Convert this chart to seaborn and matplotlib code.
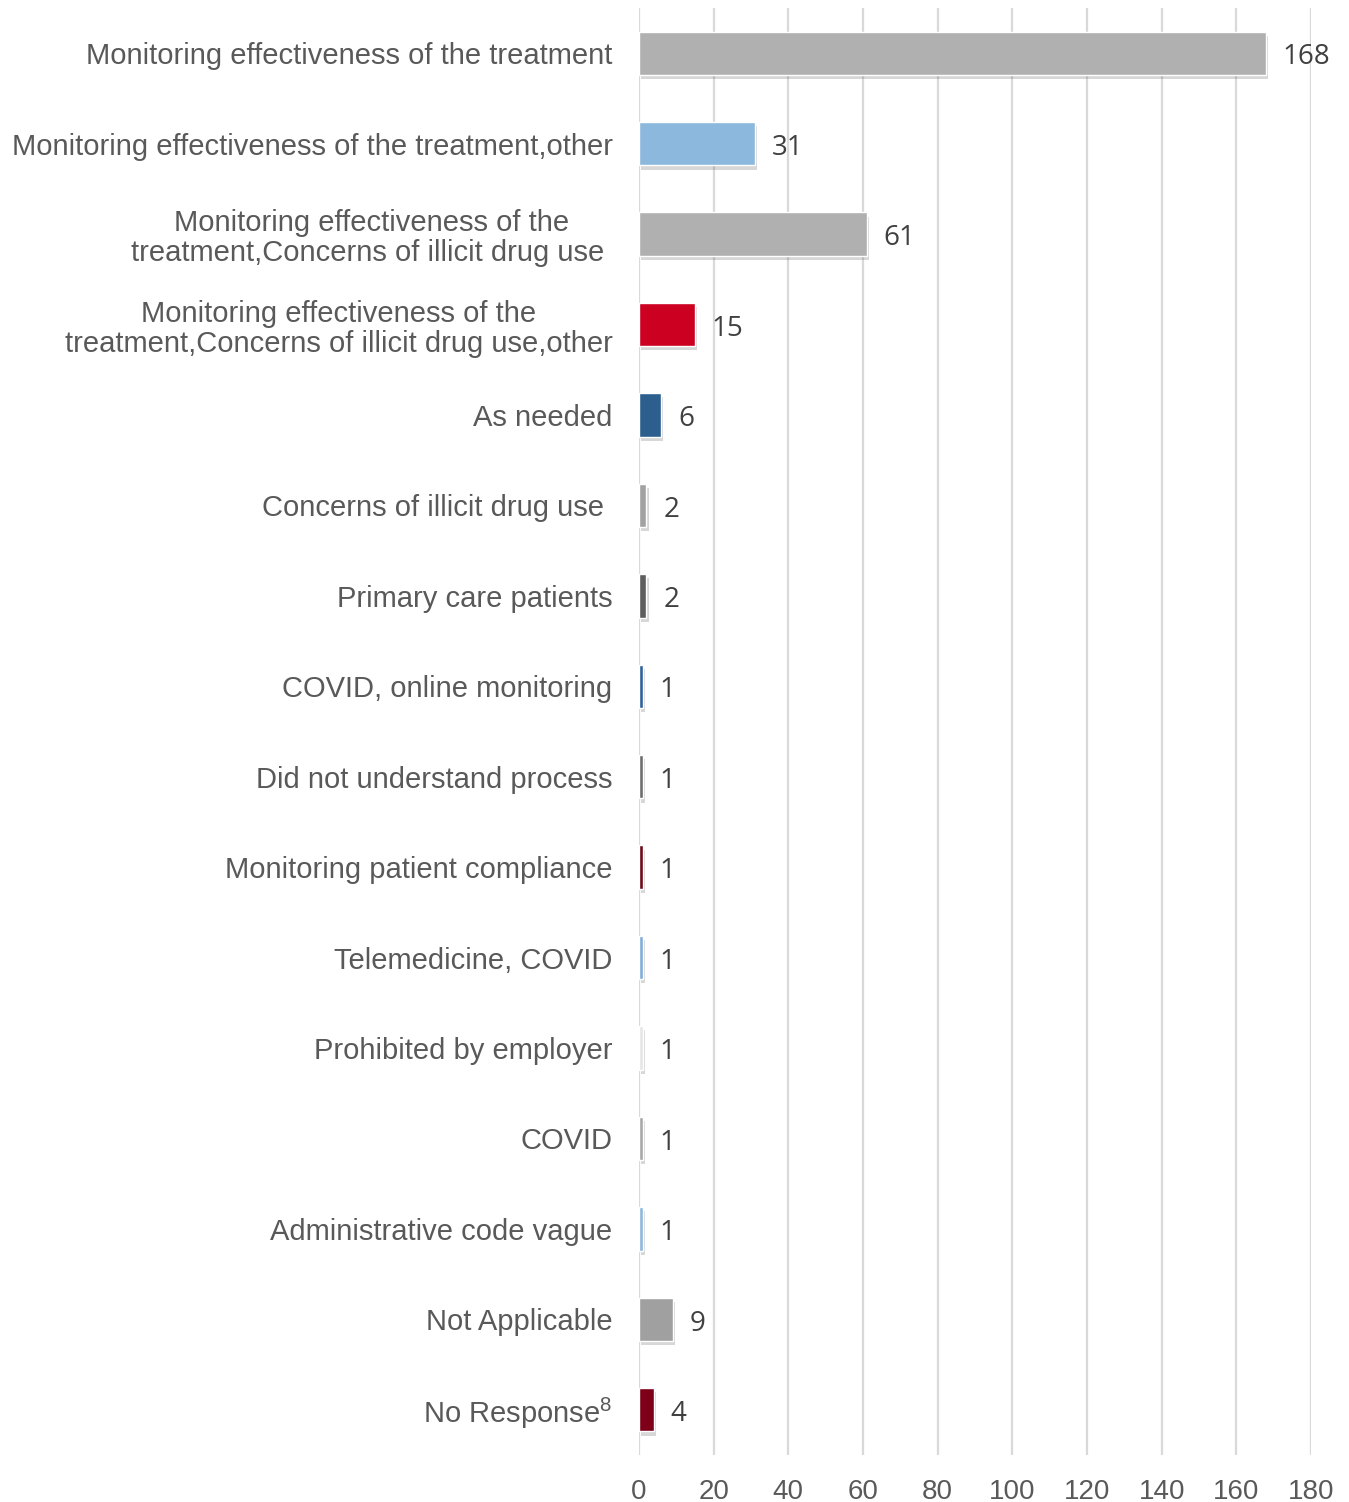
import matplotlib
matplotlib.use("Agg")
import matplotlib.pyplot as plt
import matplotlib.patheffects as pe
import seaborn as sns
import pandas as pd

categories = [
    "Monitoring effectiveness of the treatment",
    "Monitoring effectiveness of the treatment,other",
    "Monitoring effectiveness of the\ntreatment,Concerns of illicit drug use ",
    "Monitoring effectiveness of the\ntreatment,Concerns of illicit drug use,other",
    "As needed",
    "Concerns of illicit drug use ",
    "Primary care patients",
    "COVID, online monitoring",
    "Did not understand process",
    "Monitoring patient compliance",
    "Telemedicine, COVID",
    "Prohibited by employer",
    "COVID",
    "Administrative code vague",
    "Not Applicable",
    "No Response$\\mathregular{^8}$",
]
counts = [168, 31, 61, 15, 6, 2, 2, 1, 1, 1, 1, 1, 1, 1, 9, 4]
bar_colors = [
    "#B0B0B0", "#8DB8DE", "#B0B0B0", "#CC0020", "#2C5F8E", "#A2A2A2",
    "#5E5E5E", "#2F629A", "#6E6E6E", "#6A0A18", "#7FAEDA", "#E6E6E6",
    "#A8A8A8", "#8DB8DE", "#A0A0A0", "#7D0018",
]
x_ticks = [0, 20, 40, 60, 80, 100, 120, 140, 160, 180]

sns.set_theme(style="white")
plt.rcParams["font.family"] = ["Liberation Sans", "DejaVu Sans"]
plt.rcParams["mathtext.fontset"] = "custom"
plt.rcParams["mathtext.rm"] = "Liberation Sans"

df = pd.DataFrame({"category": categories, "count": counts})

fig = plt.figure(figsize=(13.49, 15.02), dpi=100)
ax = fig.add_axes([639 / 1349, 1 - 1455 / 1502, 672 / 1349, (1455 - 8) / 1502])

sns.barplot(data=df, y="category", x="count", hue="category",
            palette=bar_colors, orient="h", legend=False, width=0.48,
            saturation=1, ax=ax, zorder=3)

for p in ax.patches:
    p.set_path_effects([pe.SimplePatchShadow(offset=(1.5, -3), alpha=0.25,
                                             shadow_rgbFace="#606060"),
                        pe.Normal()])

for c in ax.containers:
    labels = ax.bar_label(c, padding=12, fontsize=20, color="#404040",
                          family=["Open Sans", "DejaVu Sans"])
    for t in labels:
        # nudge labels down a little to sit like the reference
        t.xyann = (12, -3)

ax.set_xlim(0, 180)
ax.set_xticks(x_ticks)
ax.set_xlabel("")
ax.set_ylabel("")
ax.grid(axis="x", color="#D9D9D9", linewidth=1.6, zorder=0)
ax.grid(axis="y", visible=False)
for s in ax.spines.values():
    s.set_visible(False)

ax.tick_params(axis="y", length=0, pad=19, labelsize=21, labelcolor="#595959")
ax.tick_params(axis="x", length=0, pad=17, labelsize=20, labelcolor="#595959")
for lbl in ax.get_yticklabels():
    lbl.set_multialignment("center")
    lbl.set_linespacing(1.1)

fig.savefig("out.png", dpi=100)
